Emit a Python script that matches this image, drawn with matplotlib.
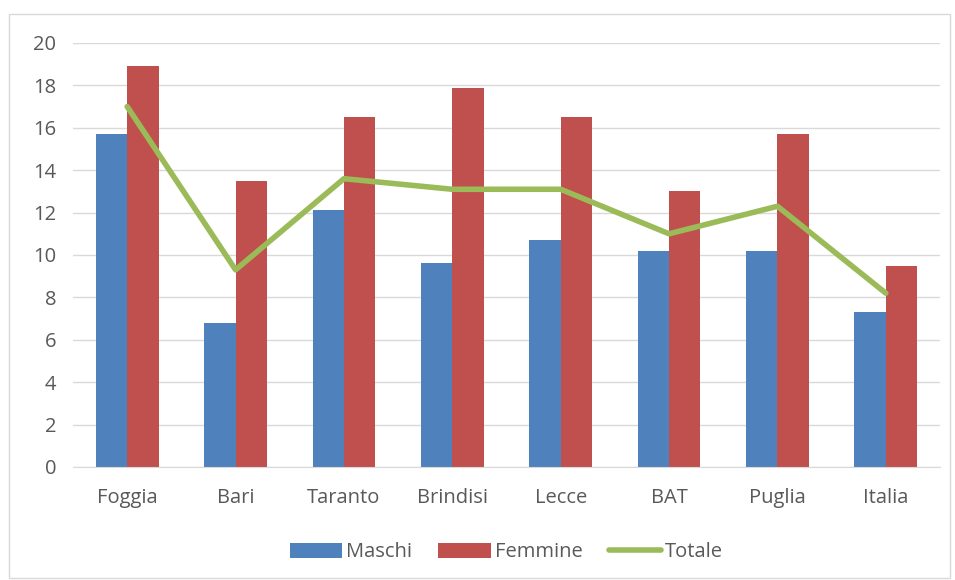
import numpy as np
import matplotlib.pyplot as plt
from matplotlib.patches import Rectangle

plt.rcParams['font.family'] = ['Open Sans', 'DejaVu Sans']

categorie = ['Foggia', 'Bari', 'Taranto', 'Brindisi', 'Lecce', 'BAT', 'Puglia', 'Italia']
maschi = [15.7, 6.8, 12.1, 9.6, 10.7, 10.2, 10.2, 7.3]
femmine = [18.9, 13.5, 16.5, 17.9, 16.5, 13.0, 15.7, 9.5]
totale = [17.0, 9.3, 13.6, 13.1, 13.1, 11.0, 12.3, 8.2]

blu = '#4f81bd'
rosso = '#c0504d'
verde = '#9bbb59'
testo = '#595959'

fig = plt.figure(figsize=(9.55, 5.8), dpi=100)
# cornice esterna del grafico
fig.patches.append(Rectangle((9 / 955, 2 / 580), 941 / 955, 564 / 580,
                             transform=fig.transFigure, fill=False,
                             edgecolor='#d9d9d9', linewidth=1))
ax = fig.add_axes([73 / 955, 113 / 580, 867 / 955, 424 / 580])

x = np.arange(len(categorie))
w = 0.29
b1 = ax.bar(x - w / 2, maschi, w, color=blu, label='Maschi', zorder=2)
b2 = ax.bar(x + w / 2, femmine, w, color=rosso, label='Femmine', zorder=2)
l1, = ax.plot(x, totale, color=verde, linewidth=4, label='Totale', zorder=3,
              solid_capstyle='round')

ax.set_xlim(-0.5, len(categorie) - 0.5)
ax.set_ylim(0, 20)
ax.set_yticks(range(0, 21, 2))
ax.set_xticks(x)
ax.set_xticklabels(categorie)
ax.grid(axis='y', color='#d9d9d9', linewidth=1, zorder=0)
ax.set_axisbelow(True)
for s in ['top', 'right', 'left']:
    ax.spines[s].set_visible(False)
ax.spines['bottom'].set_color('#d9d9d9')
ax.tick_params(axis='y', length=0, labelsize=14.5, colors=testo, pad=12)
ax.tick_params(axis='x', length=0, labelsize=14.5, colors=testo, pad=15)

leg = ax.legend([b1, b2, l1], ['Maschi', 'Femmine', 'Totale'],
                loc='upper center', bbox_to_anchor=(0.5, -0.135), ncol=3,
                frameon=False, fontsize=14.5, handlelength=2.6, handleheight=0.75,
                columnspacing=1.3, handletextpad=0.2)
for t in leg.get_texts():
    t.set_color(testo)

fig.savefig('out.png', dpi=100)
